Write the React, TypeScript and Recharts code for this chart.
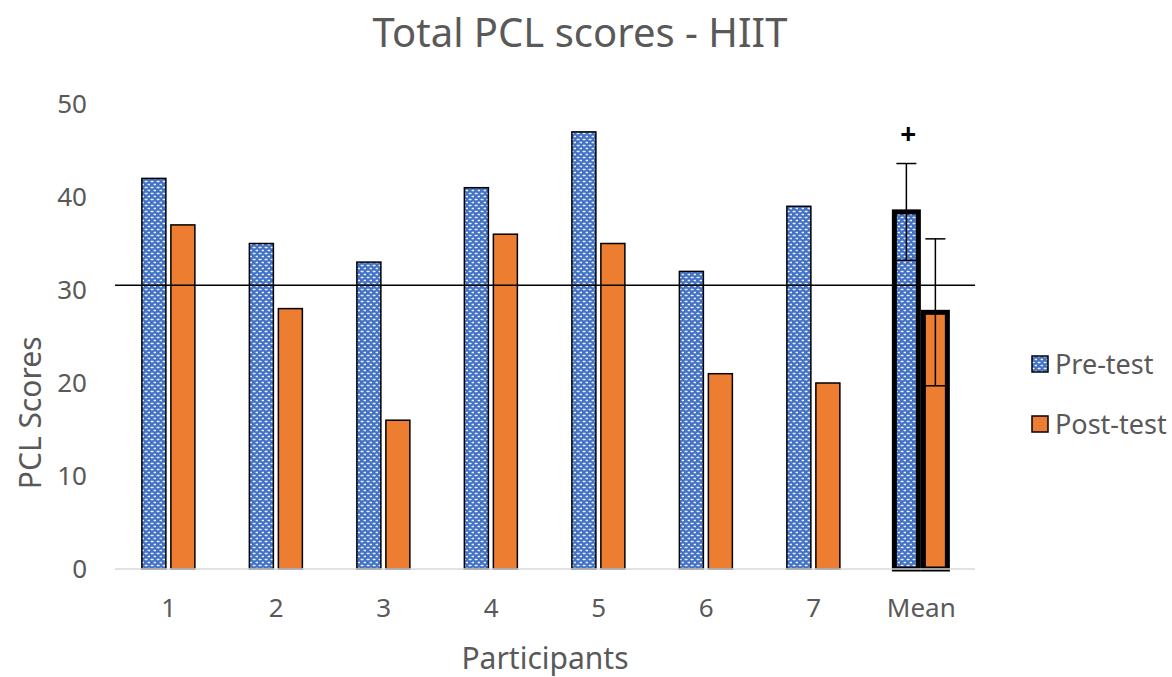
import React from 'react';
import {
  BarChart,
  Bar,
  XAxis,
  YAxis,
  ErrorBar,
  ReferenceLine,
  ReferenceDot,
} from 'recharts';

const categories = ['1', '2', '3', '4', '5', '6', '7', 'Mean'];
const preTest = [42, 35, 33, 41, 47, 32, 39, 38.4];
const postTest = [37, 28, 16, 36, 35, 21, 20, 27.6];
const preError = [null, null, null, null, null, null, null, 5.2];
const postError = [null, null, null, null, null, null, null, 7.9];
const yTicks = [0, 10, 20, 30, 40, 50];
const cutoff = 30.5;

const data = categories.map((c, i) => ({
  name: c,
  pre: preTest[i],
  post: postTest[i],
  preErr: preError[i],
  postErr: postError[i],
}));

const FONT = '"Noto Sans", sans-serif';
const GREY = '#595959';

// outlined bar, heavier border on the mean
const OutlinedBar = (props: any) => {
  const { x, y, width, height, fill, payload } = props;
  if (width == null || height == null) return null;
  const isMean = payload && payload.name === 'Mean';
  return (
    <rect
      x={x}
      y={y}
      width={width}
      height={height}
      fill={fill}
      stroke="#000"
      strokeWidth={isMean ? 5 : 1.5}
    />
  );
};

const PlusMark = (props: any) => {
  const { cx, cy } = props;
  if (cx == null || cy == null) return null;
  return (
    <text x={cx - 13} y={cy} textAnchor="middle" dominantBaseline="middle" fontSize={28} fontWeight="bold" fontFamily={FONT} fill="#000">
      +
    </text>
  );
};

const LegendBox = () => (
  <div style={{ position: 'absolute', left: 1031, top: 346, fontFamily: FONT, fontSize: 27, color: GREY, lineHeight: '36px' }}>
    <div style={{ display: 'flex', alignItems: 'center', height: 36 }}>
      <svg width={18} height={18} style={{ marginRight: 6 }}>
        <rect x={1} y={1} width={16} height={16} fill="url(#dots)" stroke="#000" strokeWidth={1.5} />
      </svg>
      Pre-test
    </div>
    <div style={{ display: 'flex', alignItems: 'center', height: 36, marginTop: 24 }}>
      <svg width={18} height={18} style={{ marginRight: 6 }}>
        <rect x={1} y={1} width={16} height={16} fill="#ED7D31" stroke="#000" strokeWidth={1.5} />
      </svg>
      Post-test
    </div>
  </div>
);

export default function App() {
  return (
    <div style={{ position: 'absolute', left: 0, top: 0, width: 1172, height: 677, background: '#fff' }}>
      <div style={{ position: 'absolute', top: 4, width: 1160, textAlign: 'center', fontFamily: FONT, fontSize: 40, color: GREY, lineHeight: '56px' }}>
        Total PCL scores - HIIT
      </div>
      <BarChart
        width={1172}
        height={677}
        data={data}
        margin={{ top: 104, right: 197, bottom: 48, left: 55 }}
        barCategoryGap="25%"
        barGap={5}
      >
        <defs>
          <pattern id="dots" width={6} height={6} patternUnits="userSpaceOnUse">
            <rect width={6} height={6} fill="#4472C4" />
            <rect x={0.5} y={0.8} width={3.2} height={1.4} rx={0.7} fill="#fff" opacity={0.9} />
            <rect x={3.5} y={3.8} width={3.2} height={1.4} rx={0.7} fill="#fff" opacity={0.9} />
          </pattern>
        </defs>
        <XAxis
          dataKey="name"
          height={60}
          axisLine={{ stroke: '#d9d9d9', strokeWidth: 1.5 }}
          tickLine={false}
          tickMargin={24}
          tick={{ fill: GREY, fontSize: 26, fontFamily: FONT }}
          label={{ value: 'Participants', position: 'insideBottom', offset: -40, fill: GREY, fontSize: 30, fontFamily: FONT }}
        />
        <YAxis
          width={60}
          domain={[0, 50]}
          ticks={yTicks}
          axisLine={false}
          tickLine={false}
          tickMargin={22}
          tick={{ fill: GREY, fontSize: 26, fontFamily: FONT }}
          label={{ value: 'PCL Scores', angle: -90, position: 'left', offset: 25, fill: GREY, fontSize: 30, fontFamily: FONT }}
        />
        <Bar dataKey="pre" name="Pre-test" fill="url(#dots)" shape={<OutlinedBar />} isAnimationActive={false}>
          <ErrorBar dataKey="preErr" width={10} stroke="#000" strokeWidth={1.5} />
        </Bar>
        <Bar dataKey="post" name="Post-test" fill="#ED7D31" shape={<OutlinedBar />} isAnimationActive={false}>
          <ErrorBar dataKey="postErr" width={10} stroke="#000" strokeWidth={1.5} />
        </Bar>
        <ReferenceLine y={cutoff} stroke="#000" strokeWidth={1.5} />
        <ReferenceDot x="Mean" y={46.5} r={0} shape={<PlusMark />} />
      </BarChart>
      <LegendBox />
    </div>
  );
}
